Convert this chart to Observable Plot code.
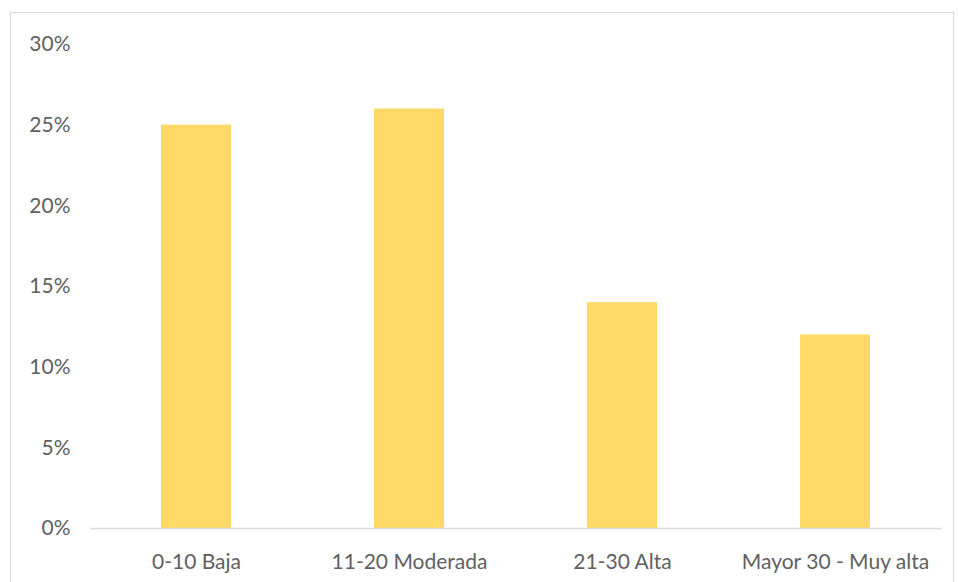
<!DOCTYPE html>
<html>
<head>
<meta charset="utf-8">
<script src="https://cdn.jsdelivr.net/npm/d3@7"></script>
<script src="https://cdn.jsdelivr.net/npm/@observablehq/plot@0.6"></script>
<style>
  html, body { margin: 0; padding: 0; background: #fff; }
  #wrap { position: relative; width: 958px; height: 582px; overflow: hidden; }
  #frame { position: absolute; left: 10px; top: 12px; width: 944px; height: 600px; border: 1px solid #d9d9d9; box-sizing: border-box; }
  #chart { position: absolute; left: 0; top: 0; }
</style>
</head>
<body>
<div id="wrap"><div id="frame"></div><div id="chart"></div></div>
<script>
const categories = ["0-10 Baja", "11-20 Moderada", "21-30 Alta", "Mayor 30 - Muy alta"];
const values = [0.25, 0.26, 0.14, 0.12];
const yTicks = [0, 0.05, 0.10, 0.15, 0.20, 0.25, 0.30];

const data = categories.map((c, i) => ({category: c, value: values[i]}));

const chart = Plot.plot({
  width: 958,
  height: 582,
  marginLeft: 90,
  marginRight: 16,
  marginTop: 44,
  marginBottom: 54,
  style: {fontFamily: "Lato, 'Open Sans', sans-serif", fontSize: "21px", color: "#5f5f5f", background: "transparent"},
  x: {domain: categories, paddingInner: 0.67, paddingOuter: 0.335, label: null},
  y: {domain: [0, 0.30], label: null},
  marks: [
    Plot.barY(data, {x: "category", y: "value", fill: "#FFD966"}),
    Plot.ruleY([0], {stroke: "#d9d9d9", strokeWidth: 1.5}),
    Plot.axisY({ticks: yTicks, tickFormat: d => Math.round(d * 100) + "%", tickSize: 0, tickPadding: 20, label: null, fill: "#5f5f5f"}),
    Plot.axisX({tickSize: 0, tickPadding: 26, label: null, fill: "#5f5f5f"})
  ]
});
document.getElementById("chart").appendChild(chart);
</script>
</body>
</html>
